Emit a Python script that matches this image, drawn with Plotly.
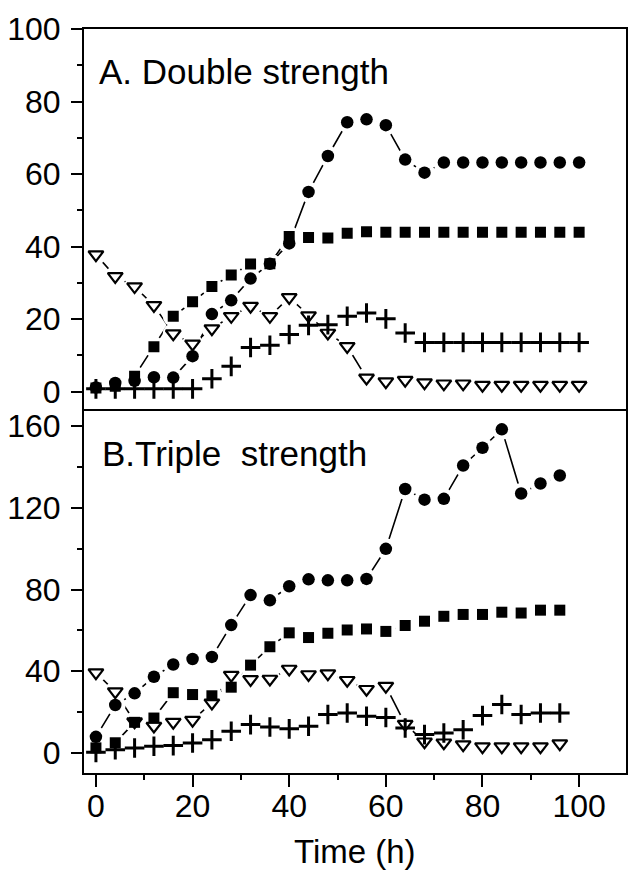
import plotly.graph_objects as go

# ---------------- data ----------------
time_a = list(range(0, 101, 4))   # panel A: 0..100 h
time_b = list(range(0, 97, 4))    # panel B: 0..96 h

a_circle = [1.2, 2.4, 3.0, 4.0, 3.9, 9.8, 21.4, 25.2, 31.2, 35.3, 40.9, 55.1, 65.0,
            74.3, 75.1, 73.5, 64.0, 60.4, 63.2, 63.2, 63.2, 63.2, 63.2, 63.2, 63.2, 63.2]
a_square = [1.0, 1.5, 4.3, 12.4, 20.8, 24.8, 29.0, 32.2, 35.2, 35.3, 42.8, 42.5, 42.4,
            43.7, 44.1, 44.0, 44.0, 44.0, 44.0, 44.0, 44.0, 44.0, 44.0, 44.0, 44.0, 44.0]
a_triangle = [37.8, 31.8, 29.0, 23.8, 16.0, 13.2, 17.4, 20.8, 23.6, 20.8, 26.0, 21.0, 16.2,
              12.5, 3.8, 2.8, 3.2, 2.5, 2.2, 2.2, 1.8, 1.8, 1.8, 1.8, 1.8, 1.8]
a_cross = [0.8, 0.8, 0.8, 0.8, 0.8, 0.8, 3.6, 7.0, 12.2, 12.8, 15.8, 18.3, 18.5,
           20.8, 21.7, 20.1, 16.2, 13.6, 13.6, 13.6, 13.6, 13.6, 13.6, 13.6, 13.6, 13.6]

b_circle = [7.9, 23.5, 29.2, 37.3, 43.3, 46.0, 47.0, 62.6, 77.3, 74.7, 81.6, 85.0, 84.5,
            84.5, 85.2, 99.9, 129.2, 124.0, 124.4, 140.7, 149.4, 158.4, 127.0, 131.9, 135.8]
b_square = [2.5, 5.0, 15.0, 17.1, 29.5, 28.6, 28.0, 32.2, 43.0, 52.0, 58.8, 56.5, 58.6,
            60.2, 60.7, 59.5, 62.4, 64.5, 66.9, 67.8, 67.8, 68.9, 68.5, 69.9, 69.9]
b_triangle = [39.3, 30.0, 15.3, 13.2, 15.1, 16.1, 24.5, 38.1, 36.0, 36.2, 41.1, 38.4, 38.8,
              35.6, 31.2, 32.7, 14.1, 5.5, 5.0, 4.1, 3.1, 3.1, 3.1, 3.1, 4.6]
b_cross = [0.3, 1.6, 2.4, 3.3, 3.6, 4.9, 6.5, 10.6, 13.9, 12.7, 11.8, 13.1, 18.8,
           19.6, 18.0, 17.4, 12.2, 9.0, 9.8, 11.4, 18.3, 23.7, 18.8, 19.6, 19.6]

panel_a_label = "A. Double strength"
panel_b_label = "B.Triple\u00a0 strength"
x_title = "Time (h)"
x_ticks = [0, 20, 40, 60, 80, 100]
ya_ticks = [0, 20, 40, 60, 80, 100]
yb_ticks = [0, 40, 80, 120, 160]

FONT = "Liberation Sans, Arial, sans-serif"

fig = go.Figure()

panels = [
    ("x", "y", time_a, a_circle, a_square, a_triangle, a_cross),
    ("x2", "y2", time_b, b_circle, b_square, b_triangle, b_cross),
]

# 1) connecting lines
for xa, ya, t, c, s, tr, cr in panels:
    for vals in (c, s, tr):
        fig.add_trace(go.Scatter(x=t, y=vals, xaxis=xa, yaxis=ya, mode="lines",
                                 line=dict(color="black", width=1.6),
                                 hoverinfo="skip", showlegend=False))
# 2) white halos (line gaps around symbols)
for xa, ya, t, c, s, tr, cr in panels:
    for vals in (c, s, tr):
        fig.add_trace(go.Scatter(x=t, y=vals, xaxis=xa, yaxis=ya, mode="markers",
                                 marker=dict(symbol="circle", size=21, color="white",
                                             line=dict(width=0)),
                                 hoverinfo="skip", showlegend=False))
# 3) symbols
for xa, ya, t, c, s, tr, cr in panels:
    fig.add_trace(go.Scatter(x=t, y=s, xaxis=xa, yaxis=ya, mode="markers",
                             marker=dict(symbol="square", size=11, color="black",
                                         line=dict(width=0)), showlegend=False))
    fig.add_trace(go.Scatter(x=t, y=c, xaxis=xa, yaxis=ya, mode="markers",
                             marker=dict(symbol="circle", size=12.5, color="black",
                                         line=dict(width=0)), showlegend=False))
    fig.add_trace(go.Scatter(x=t, y=tr, xaxis=xa, yaxis=ya, mode="markers",
                             marker=dict(symbol="triangle-down-open", size=13,
                                         color="black", line=dict(width=2.2, color="black")),
                             showlegend=False))
    fig.add_trace(go.Scatter(x=t, y=cr, xaxis=xa, yaxis=ya, mode="markers",
                             marker=dict(symbol="cross-thin-open", size=14,
                                         color="black", line=dict(width=3, color="black")),
                             showlegend=False))

line_common = dict(showline=True, linewidth=2, linecolor="black",
                   showgrid=False, zeroline=False,
                   tickfont=dict(family=FONT, size=32, color="black"))
XR = [-2.47, 109.7]
split = 0.4888

fig.update_layout(
    width=629, height=874,
    margin=dict(l=84, r=1, t=29, b=101),
    paper_bgcolor="white", plot_bgcolor="white",
    showlegend=False,
    xaxis=dict(domain=[0, 1], anchor="y", range=XR, showticklabels=False, ticks="",
               mirror=True, **line_common),
    yaxis=dict(domain=[split, 1], anchor="x", range=[-4.85, 100.01],
               tickmode="array", tickvals=ya_ticks, ticktext=[str(v) for v in ya_ticks],
               ticks="outside", ticklen=11, tickwidth=2, tickcolor="black",
               ticklabelstandoff=4, mirror=True,
               minor=dict(tickmode="linear", tick0=0, dtick=10, ticks="outside", ticklen=5,
                          tickwidth=2, tickcolor="black", showgrid=False),
               **line_common),
    xaxis2=dict(domain=[0, 1], anchor="y2", range=XR,
                tickmode="array", tickvals=x_ticks, ticktext=[str(v) for v in x_ticks],
                ticks="outside", ticklen=12, tickwidth=2, tickcolor="black",
                ticklabelstandoff=-8, mirror=False,
                minor=dict(tickmode="linear", tick0=0, dtick=10, ticks="outside", ticklen=5,
                           tickwidth=2, tickcolor="black", showgrid=False),
                **line_common),
    yaxis2=dict(domain=[0, split], anchor="x2", range=[-9.8, 168.2],
                tickmode="array", tickvals=yb_ticks, ticktext=[str(v) for v in yb_ticks],
                ticks="outside", ticklen=11, tickwidth=2, tickcolor="black",
                ticklabelstandoff=4, mirror=True,
                minor=dict(tickmode="linear", tick0=0, dtick=20, ticks="outside", ticklen=5,
                           tickwidth=2, tickcolor="black", showgrid=False),
                **line_common),
)

fig.add_annotation(x=0.3, y=88.3, xref="x", yref="y", text=panel_a_label,
                   showarrow=False, xanchor="left", yanchor="middle",
                   font=dict(family=FONT, size=35, color="black"))
fig.add_annotation(x=0.9, y=146.5, xref="x2", yref="y2", text=panel_b_label,
                   showarrow=False, xanchor="left", yanchor="middle",
                   font=dict(family=FONT, size=35, color="black"))
fig.add_annotation(x=0.5, y=-0.106, xref="paper", yref="paper", text=x_title,
                   showarrow=False, xanchor="center", yanchor="middle",
                   font=dict(family=FONT, size=33, color="black"))

fig.write_html("out.html",
               config={"displayModeBar": False},
               post_script="document.body.style.margin='0px';document.body.style.padding='0px';")
